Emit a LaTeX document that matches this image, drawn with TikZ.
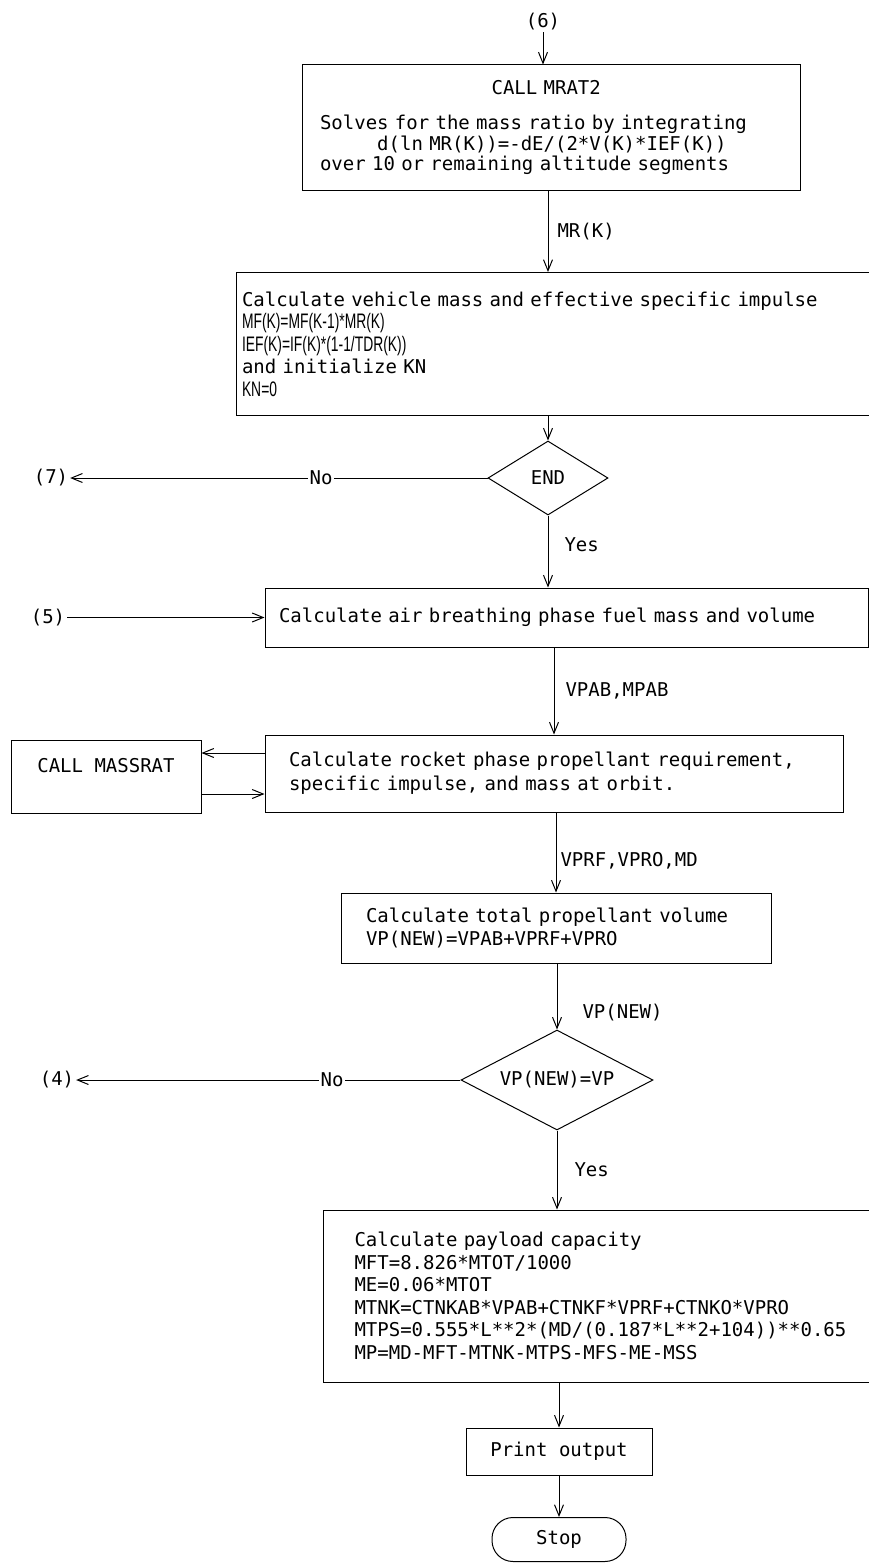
\documentclass[tikz,border=0pt]{standalone}
\usepackage{fontspec}
\setmonofont{DejaVu Sans Mono}
\newfontfamily\narrowfont[FakeStretch=0.66]{Liberation Sans}
\usepackage{tikz}
\usetikzlibrary{positioning,arrows.meta,shapes.geometric}
\newcommand\flowfont{\ttfamily\fontsize{19pt}{22.5pt}\selectfont}
\newcommand\narrowtext[1]{{\narrowfont\fontsize{21pt}{22.5pt}\selectfont#1}}
\newcommand\chskip[1]{\hspace*{\dimexpr#1\fontcharwd\font`M\relax}}

\begin{document}
\begin{tikzpicture}[x=1pt, y=-1pt, line width=1pt, >={Straight Barb[length=11pt,width=9pt]},
    every node/.style={font=\flowfont},
    box/.style={draw, rectangle, align=left, inner sep=0pt},
    decision/.style={draw, diamond, inner sep=0pt},
    terminal/.style={draw, rectangle, rounded corners=21pt, inner sep=0pt},
    lbl/.style={inner sep=1pt, anchor=west},
    link/.style={inner sep=1.5pt}]
    \clip (0,0) rectangle (869,1563);

    % mass ratio step
    \node[link] (in6) at (543,22) {(6)};
    \node[box, minimum width=498pt, minimum height=125pt, text width=462pt] (mrat) at (551,127.5)
        {\chskip{15}CALL MRAT2\\[12.5pt]
         Solves for the mass ratio by integrating\\[-1.5pt]
         \chskip{5}d(ln MR(K))=-dE/(2*V(K)*IEF(K))\\[-2.5pt]
         over 10 or remaining altitude segments};
    \node[box, minimum width=642pt, minimum height=143pt, text width=630pt] (mass) at (557,344)
        {Calculate vehicle mass and effective specific impulse\\
         \narrowtext{MF(K)=MF(K-1)*MR(K)}\\
         \narrowtext{IEF(K)=IF(K)*(1-1/TDR(K))}\\
         and initialize KN\\
         \narrowtext{KN=0}};

    % END test
    \node[decision, minimum width=120pt, minimum height=74pt, shape aspect=1.6] (dend) at (548,478) {END};
    \node[link] (noA) at (321,478) {No};
    \node[link] (out7) at (51,478) {(7)};

    % propellant steps
    \node[link] (in5) at (48,617.5) {(5)};
    \node[box, minimum width=603pt, minimum height=59pt, text width=575pt] (airb) at (566.5,617.5)
        {Calculate air breathing phase fuel mass and volume};
    \node[box, minimum width=578pt, minimum height=77pt, text width=530pt] (rocket) at (554,773.5)
        {Calculate rocket phase propellant requirement,\\[1.5pt]
         specific impulse, and mass at orbit.};
    \node[box, minimum width=190pt, minimum height=73pt, align=center] (massrat) at (106,776.5)
        {CALL MASSRAT\\ \mbox{}};
    \node[box, minimum width=430pt, minimum height=70pt, text width=380pt] (total) at (556,928)
        {Calculate total propellant volume\\
         VP(NEW)=VPAB+VPRF+VPRO};

    % convergence test
    \node[decision, minimum width=192pt, minimum height=100pt, shape aspect=2] (dvp) at (557,1080) {VP(NEW)=VP};
    \node[link] (noB) at (332,1080) {No};
    \node[link] (out4) at (57,1080) {(4)};

    % payload and output
    \node[box, minimum width=557pt, minimum height=172pt, text width=494pt] (payload) at (601.5,1296)
        {Calculate payload capacity\\
         MFT=8.826*MTOT/1000\\
         ME=0.06*MTOT\\
         MTNK=CTNKAB*VPAB+CTNKF*VPRF+CTNKO*VPRO\\
         MTPS=0.555*L**2*(MD/(0.187*L**2+104))**0.65\\
         MP=MD-MFT-MTNK-MTPS-MFS-ME-MSS};
    \node[box, minimum width=186pt, minimum height=47pt] (print) at (559,1451.5) {Print output};
    \node[terminal, minimum width=134pt, minimum height=44pt] (stop) at (559,1539.5) {Stop};

    \draw[->] (in6) -- (in6 |- mrat.north);
    \draw[->] (mrat.south -| dend) -- node[lbl, xshift=8pt] {MR(K)} (mass.north -| dend);
    \draw[->] (mass.south -| dend) -- (dend.north);
    \draw (dend) -- (noA);
    \draw[->] (noA) -- (out7);
    \draw[->] (dend.south) -- node[lbl, xshift=15pt, pos=0.4] {Yes} (dend.south |- airb.north);
    \draw[->] (in5) -- (airb);
    \draw[->] (airb.south -| rocket) -- node[lbl, xshift=10pt] {VPAB,MPAB} (rocket.north);
    \coordinate (mtop) at ([yshift=20.5pt]rocket.west);
    \coordinate (mbot) at ([yshift=-20.5pt]rocket.west);
    \draw[->] (mtop) -- (mtop -| massrat.east);
    \draw[->] (mbot -| massrat.east) -- (mbot);
    \draw[->] (rocket.south -| total) -- node[lbl, xshift=3pt, pos=0.6] {VPRF,VPRO,MD} (total.north);
    \draw[->] (total.south -| dvp) -- node[lbl, xshift=24pt, pos=0.75] {VP(NEW)} (dvp.north);
    \draw (dvp) -- (noB);
    \draw[->] (noB) -- (out4);
    \draw[->] (dvp.south) -- node[lbl, xshift=16pt] {Yes} (dvp.south |- payload.north);
    \draw[->] (payload.south -| print) -- (print.north);
    \draw[->] (print) -- (stop);
\end{tikzpicture}
\end{document}
